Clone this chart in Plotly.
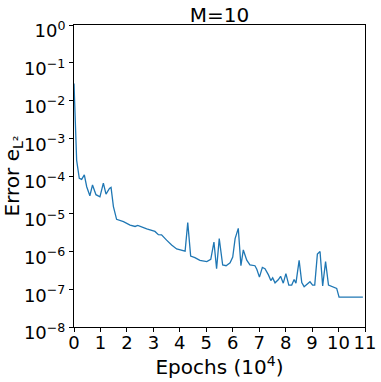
import plotly.graph_objects as go

# training error, epochs in units of 10^4
epochs = [0.0, 0.1, 0.2, 0.29, 0.39, 0.48, 0.6, 0.7, 0.83, 0.98,
          1.11, 1.21, 1.34, 1.40, 1.49, 1.61, 1.87, 2.12, 2.31, 2.41,
          2.75, 3.06, 3.19, 3.31, 3.50, 3.69, 3.88, 4.07, 4.2, 4.30,
          4.41, 4.57, 4.76, 5.02, 5.17, 5.29, 5.39, 5.49, 5.62, 5.75,
          5.90, 6.0, 6.09, 6.21, 6.31, 6.40, 6.53, 6.65, 6.84, 6.91,
          7.01, 7.12, 7.22, 7.35, 7.44, 7.51, 7.60, 7.72, 7.81, 7.91,
          8.01, 8.12, 8.23, 8.32, 8.39, 8.51, 8.61, 8.70, 8.80, 8.92,
          9.02, 9.10, 9.20, 9.30, 9.40, 9.51, 9.62, 9.81, 9.93, 10.02,
          10.92]
error = [2.8e-2, 2.6e-4, 8.7e-5, 8.1e-5, 1.07e-4, 5.2e-5, 3.0e-5, 5.8e-5, 3.2e-5, 2.8e-5,
         6.5e-5, 3.3e-5, 4.7e-5, 5.0e-5, 1.55e-5, 7.1e-6, 6.2e-6, 5.0e-6, 4.6e-6, 4.9e-6,
         4.0e-6, 3.4e-6, 2.8e-6, 2.75e-6, 2.0e-6, 1.48e-6, 1.17e-6, 1.05e-6, 1.02e-6, 5.8e-6,
         7.6e-7, 6.9e-7, 5.8e-7, 5.4e-7, 6.2e-7, 1.78e-6, 3.5e-7, 2.2e-6, 4.4e-7, 4.2e-7,
         5.0e-7, 7.1e-7, 2.2e-6, 4.1e-6, 4.2e-7, 1.1e-6, 5.9e-7, 4.4e-7, 4.2e-7, 3.4e-7,
         2.1e-7, 3.8e-7, 3.5e-7, 2.4e-7, 1.7e-7, 2.0e-7, 1.48e-7, 1.78e-7, 2.2e-7, 1.45e-7,
         2.6e-7, 1.29e-7, 1.29e-7, 1.8e-7, 1.45e-7, 5.8e-7, 1.5e-7, 1.17e-7, 1.38e-7, 1.58e-7,
         1.29e-7, 1.29e-7, 8.5e-7, 1.0e-6, 1.23e-7, 5.4e-7, 1.29e-7, 1.17e-7, 1.05e-7, 6.2e-8,
         6.2e-8]

x_ticks = list(range(0, 12))
y_tick_vals = [10.0 ** -k for k in range(0, 9)]
y_tick_text = ["10<sup>0</sup>"] + ["10<sup>\u2212%d</sup>" % k for k in range(1, 9)]

fig = go.Figure()
fig.add_trace(go.Scatter(
    x=epochs, y=error, mode="lines",
    line=dict(color="#1f77b4", width=1.3),
    showlegend=False,
))

font = "DejaVu Sans, sans-serif"
fig.update_layout(
    width=381, height=382,
    margin=dict(l=74, r=16, t=25, b=55, autoexpand=False),
    paper_bgcolor="white", plot_bgcolor="white",
    font=dict(family=font, size=18, color="black"),
    title=dict(text="M=10", x=0.5, xanchor="center", xref="paper",
               y=1, yref="paper", yanchor="bottom", pad=dict(b=3),
               font=dict(size=20)),
)
fig.update_xaxes(
    range=[0, 11], tickvals=x_ticks, ticktext=[str(v) for v in x_ticks],
    showgrid=False, zeroline=False, automargin=False,
    showline=True, linecolor="black", linewidth=1, mirror=True,
    ticks="outside", ticklen=4, tickcolor="black",
    tickfont=dict(size=18), ticklabelstandoff=-5,
    title=dict(text="Epochs (10<sup>4</sup>)", font=dict(size=20), standoff=0),
)
fig.update_yaxes(
    type="log", range=[-8, 0], tickvals=y_tick_vals, ticktext=y_tick_text,
    showgrid=False, zeroline=False, automargin=False,
    showline=True, linecolor="black", linewidth=1, mirror=True,
    ticks="outside", ticklen=4, tickcolor="black",
    tickfont=dict(size=18), ticklabelshift=6,
    title=dict(text="Error e<sub>L\u00b2</sub>", font=dict(size=20), standoff=0),
)

# the default page keeps an 8px body margin; drop it so the figure sits at 0,0
fig.write_html("out.html", config={"displayModeBar": False},
               post_script="document.body.style.margin='0';")
